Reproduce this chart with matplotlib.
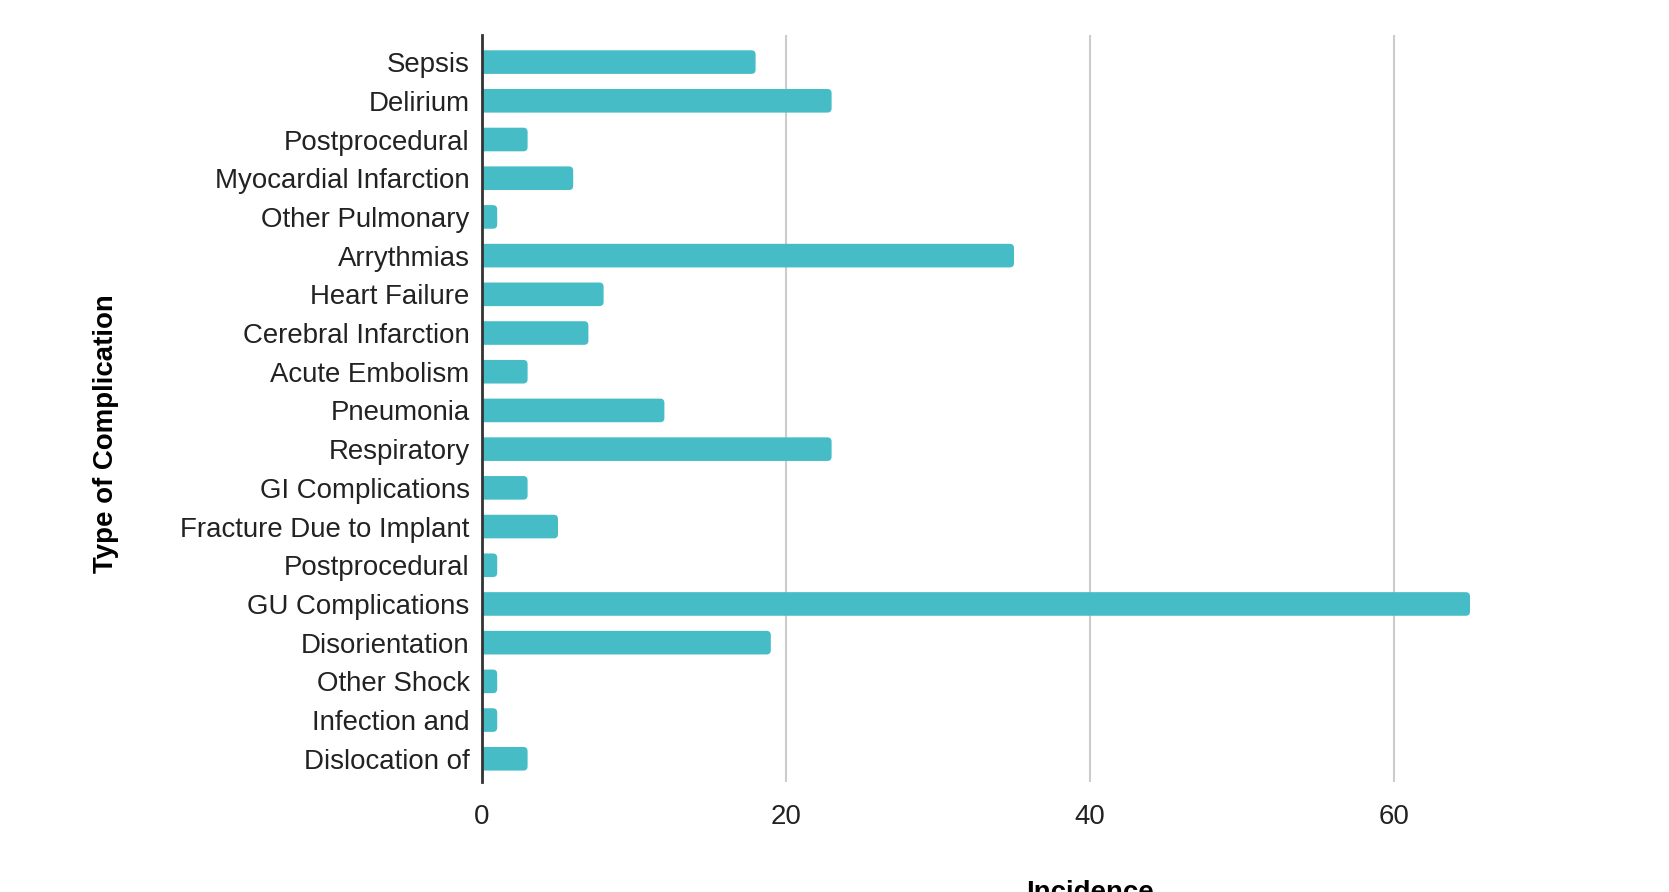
import numpy as np
from matplotlib import pyplot as plt
from matplotlib.patches import FancyBboxPatch

plt.rcParams['font.family'] = ['Liberation Sans', 'DejaVu Sans']

categories = ["Sepsis", "Delirium", "Postprocedural", "Myocardial Infarction",
              "Other Pulmonary", "Arrythmias", "Heart Failure", "Cerebral Infarction",
              "Acute Embolism", "Pneumonia", "Respiratory", "GI Complications",
              "Fracture Due to Implant", "Postprocedural", "GU Complications",
              "Disorientation", "Other Shock", "Infection and", "Dislocation of"]
incidence = [18, 23, 3, 6, 1, 35, 8, 7, 3, 12, 23, 3, 5, 1, 65, 19, 1, 1, 3]
xticks = [0, 20, 40, 60]

fig = plt.figure(figsize=(16.69, 8.92), dpi=100)
# axes runs past the right edge, like the cropped original
ax = fig.add_axes([482 / 1669, 1 - 782 / 892, (1698 - 482) / 1669, (782 - 35) / 892])

pos = np.arange(len(categories))
bars = ax.barh(pos, incidence, height=0.61, color="#46BDC6", zorder=3)

# swap the plain bars for ones with rounded ends
r = 0.28
aspect = 15.2 / 38.7
for b in bars:
    x, y = b.get_xy()
    w, h = b.get_width(), b.get_height()
    p = FancyBboxPatch((x - r, y), w + r, h,
                       boxstyle="round,pad=0,rounding_size=%f" % r,
                       mutation_aspect=aspect, facecolor="#46BDC6",
                       edgecolor="none", zorder=3)
    ax.add_patch(p)
    b.remove()

ax.set_yticks(pos)
ax.set_yticklabels(categories)
ax.set_ylim(len(categories) - 0.4, -0.7)
ax.set_xlim(0, 80)
ax.set_xticks(xticks)

ax.grid(axis="x", color="#cccccc", linewidth=1.5, zorder=0)
for side in ["top", "right", "bottom"]:
    ax.spines[side].set_visible(False)
ax.spines["left"].set_color("#333333")
ax.spines["left"].set_linewidth(2)
ax.spines["left"].set_zorder(4)

ax.tick_params(axis="y", length=0, pad=9, labelsize=19.9, labelcolor="#222222")
ax.tick_params(axis="x", length=0, pad=16, labelsize=19.9, labelcolor="#222222")

ax.set_ylabel("Type of Complication", fontsize=19.9, fontweight="bold", labelpad=44)
ax.yaxis.label.set_y(0.467)
ax.set_xlabel("Incidence", fontsize=19.9, fontweight="bold", labelpad=36)

fig.savefig("out.png", dpi=100)
